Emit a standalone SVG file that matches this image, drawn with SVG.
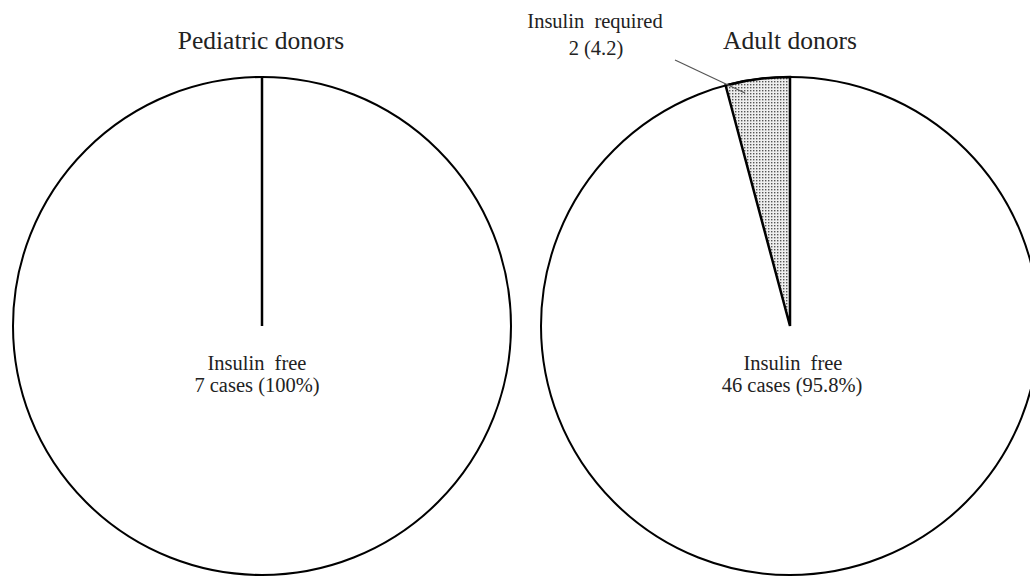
<svg xmlns="http://www.w3.org/2000/svg" width="1030" height="576" viewBox="0 0 1030 576">
  <defs>
    <pattern id="dots" width="3" height="3" patternUnits="userSpaceOnUse">
      <rect width="3" height="3" fill="#eeeeee"/>
      <rect x="0" y="0" width="1.4" height="1.4" fill="#555"/>
    </pattern>
    <style>
      .pie { fill: #fff; stroke: #000; stroke-width: 2; }
      .div { stroke: #000; stroke-width: 2.5; fill: none; }
      .title { font-family: "Liberation Serif", "Times New Roman", serif; font-size: 25.5px; fill: #222; text-anchor: middle; }
      .lbl { font-family: "Liberation Serif", "Times New Roman", serif; font-size: 20.5px; fill: #222; text-anchor: middle; }
      .sp { word-spacing: 5px; }
    </style>
  </defs>
  <rect width="1030" height="576" fill="#fff"/>

  <g id="pediatric">
    <circle class="pie" cx="262" cy="326" r="249"/>
    <line class="div" x1="262" y1="77" x2="262" y2="326"/>
    <text class="title" x="261" y="49">Pediatric donors</text>
    <text class="lbl sp" x="257" y="370">Insulin free</text>
    <text class="lbl" x="257" y="392">7 cases (100%)</text>
  </g>

  <g id="adult">
    <circle class="pie" cx="790" cy="326" r="249"/>
    <path d="M790,326 L725.6,85.5 A249,249 0 0 1 790,77 Z" fill="url(#dots)" stroke="#000" stroke-width="2.5" stroke-linejoin="miter"/>
    <text class="title" x="790" y="49">Adult donors</text>
    <text class="lbl sp" x="793" y="370">Insulin free</text>
    <text class="lbl" x="792" y="392">46 cases (95.8%)</text>
  </g>

  <g id="insulin-required">
    <text class="lbl sp" x="595" y="28">Insulin required</text>
    <text class="lbl" x="596" y="55">2 (4.2)</text>
  </g>

  <g id="connectors">
    <line x1="675" y1="60" x2="745" y2="93" stroke="#555" stroke-width="1.2"/>
  </g>
</svg>
